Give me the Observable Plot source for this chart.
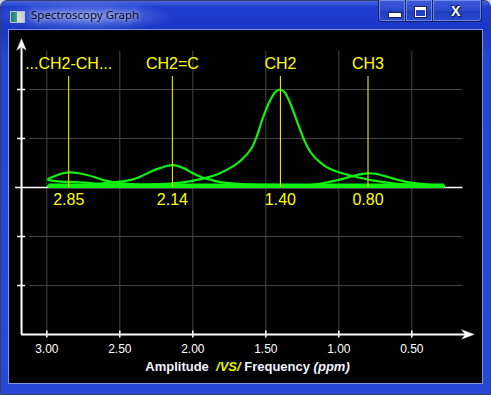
<!DOCTYPE html>
<html>
<head>
<meta charset="utf-8">
<script src="https://cdn.jsdelivr.net/npm/d3@7"></script>
<script src="https://cdn.jsdelivr.net/npm/@observablehq/plot@0.6"></script>
<style>
  body { margin:0; width:491px; height:395px; overflow:hidden; background:#c8d0e0; position:relative; }
  .abs { position:absolute; }
  #win { left:0; top:0; width:491px; height:395px; box-sizing:border-box; border:1px solid #34406a;
         border-radius:7px 7px 0 0;
         background: linear-gradient(180deg, #4a66e0 0px, #1f3dd0 6px, #1a37c6 28px, #2546d4 60px, #2747d6 100%); }
  #glow { left:0; top:0; width:190px; height:30px;
          background: radial-gradient(ellipse 90px 16px at 85px 16px, rgba(170,190,255,0.55), rgba(120,150,255,0) 100%); }
  #title { left:31px; top:7px; font: 11.5px "Noto Sans", "Open Sans", sans-serif; line-height:16px; color:#0b0b1c;
           text-shadow: 0 0 5px rgba(255,255,255,0.7), 0 0 9px rgba(255,255,255,0.5); white-space:nowrap; }
  #icon { left:10px; top:11px; width:15px; height:12px; box-sizing:border-box; border:1px solid #b8c0c8;
          background: linear-gradient(90deg, #1f7f74 0, #3aa08f 45%, #dfe3e8 45%, #c6ccd4 100%); }
  .btn { top:0; height:22px; box-sizing:border-box; border:1px solid #15245e; border-top:none;
         background: linear-gradient(180deg, #3c5ad8 0%, #2b49cc 50%, #1f3cc2 51%, #2a48cc 100%);
         box-shadow: inset 0 0 0 1px rgba(160,180,255,0.55); }
  #bmin { left:378px; width:28px; border-radius:0 0 0 4px; }
  #bmax { left:405px; width:28px; }
  #bclose { left:432px; width:50px; border-radius:0 0 4px 0; }
  #gmin { left:388px; top:12px; width:12px; height:4px; background:#fff; border:1px solid #1a2450; box-sizing:content-box; }
  #gmax { left:415px; top:7px; width:9px; height:6px; border:1px solid #fff; border-top-width:3px; outline:1px solid #1a2450; }
  #gclose { left:451px; top:3px; font: bold 14px "Liberation Sans", Arial, sans-serif; color:#fff;
            text-shadow: 0 0 1px #101a40, 1px 1px 1px #101a40, -1px -1px 1px #101a40; }
  #client { left:8px; top:29px; width:475px; height:355px; box-sizing:border-box; border:1px solid #7d93e6; background:#000; }
  #chart { left:9px; top:30px; width:473px; height:353px; }
  #xtitle { left:2px; top:359px; width:491px; text-align:center; font: bold 13px "Liberation Sans", Arial, sans-serif;
            line-height:15px; color:#f2f4ff; white-space:pre; }
  #xtitle .vs { color:#e6f000; font-style:italic; }
  #xtitle .u { font-style:italic; }
</style>
</head>
<body>
<div id="win" class="abs"></div>
<div id="glow" class="abs"></div>
<div id="icon" class="abs"></div>
<div id="title" class="abs">Spectroscopy Graph</div>
<div id="bmin" class="abs btn"></div>
<div id="bmax" class="abs btn"></div>
<div id="bclose" class="abs btn"></div>
<div id="gmin" class="abs"></div>
<div id="gmax" class="abs"></div>
<div id="gclose" class="abs">X</div>
<div id="client" class="abs"></div>
<div id="chart" class="abs"></div>
<div id="xtitle" class="abs">Amplitude  <span class="vs">/VS/</span> Frequency <span class="u">(ppm)</span></div>
<script>
// ---- data ----
const xTickValues = [3.0, 2.5, 2.0, 1.5, 1.0, 0.5];
const xTickLabels = ["3.00", "2.50", "2.00", "1.50", "1.00", "0.50"];
const yGridValues = [2, 1, -1, -2];

const peakNames = ["...CH2-CH...", "CH2=C", "CH2", "CH3"];
const peakPositions = [2.85, 2.14, 1.40, 0.80];
const peakLabels = ["2.85", "2.14", "1.40", "0.80"];

// ...CH2-CH... peak (ppm, amplitude)
const ch2chPpm = [2.99, 2.94, 2.89, 2.84, 2.78, 2.67, 2.60, 2.54, 2.43, 2.22, 1.80, 1.00, 0.28];
const ch2chAmp = [0.18, 0.24, 0.29, 0.31, 0.29, 0.21, 0.14, 0.11, 0.07, 0.05, 0.04, 0.035, 0.03];
// broad shoulder line under the ...CH2-CH... peak
const shoulderPpm = [2.99, 2.90, 2.79, 2.63, 2.50, 2.30, 2.00];
const shoulderAmp = [0.15, 0.12, 0.11, 0.075, 0.06, 0.045, 0.035];
// CH2=C peak
const ch2cPpm = [2.99, 2.77, 2.63, 2.50, 2.43, 2.36, 2.29, 2.22, 2.14, 2.06, 2.00, 1.93, 1.88, 1.81, 1.67, 1.40, 0.80, 0.28];
const ch2cAmp = [0.03, 0.05, 0.08, 0.12, 0.15, 0.22, 0.32, 0.40, 0.455, 0.39, 0.29, 0.20, 0.16, 0.11, 0.07, 0.05, 0.04, 0.03];
// CH2 main peak
const ch2Ppm = [2.99, 2.63, 2.29, 2.08, 1.93, 1.83, 1.72, 1.66, 1.60, 1.56, 1.52, 1.47, 1.43, 1.40, 1.37, 1.33, 1.28, 1.24, 1.21, 1.17, 1.13, 1.08, 1.00, 0.92, 0.76, 0.60, 0.44, 0.28];
const ch2Amp = [0.03, 0.04, 0.06, 0.10, 0.18, 0.27, 0.44, 0.58, 0.79, 1.06, 1.42, 1.78, 1.96, 2.00, 1.94, 1.70, 1.30, 0.99, 0.80, 0.63, 0.52, 0.41, 0.31, 0.245, 0.14, 0.075, 0.05, 0.03];
// CH3 peak
const ch3Ppm = [2.99, 2.00, 1.50, 1.26, 1.17, 1.04, 0.92, 0.87, 0.81, 0.75, 0.67, 0.60, 0.53, 0.39, 0.28];
const ch3Amp = [0.03, 0.035, 0.035, 0.045, 0.06, 0.13, 0.22, 0.26, 0.29, 0.28, 0.22, 0.16, 0.11, 0.06, 0.04];
// thick merged tails along the baseline
const bandPpm = [2.99, 0.28];
const bandAmp = [0.035, 0.035];

const toPoints = (xs, ys) => xs.map((x, i) => ({x, y: ys[i]}));

const green = "#10f010";
const yellow = "#ffff00";
const font = "'Liberation Sans', Arial, sans-serif";

const arrowShape = {
  draw(context, l, r) {
    context.moveTo(0, -l);
    context.lineTo(r, 0);
    context.lineTo(0, -l * 0.3);
    context.lineTo(-r, 0);
    context.closePath();
  }
};

const curveOpts = {x: "x", y: "y", stroke: green, strokeWidth: 2.2, curve: "catmull-rom"};

const chart = Plot.plot({
  width: 473,
  height: 353,
  x: {domain: [3.2, 0.1], range: [8.1, 460.7], axis: null},
  y: {domain: [-3, 3], range: [304, 10], axis: null},
  style: {background: "black", fontFamily: font},
  marks: [
    // grid
    Plot.ruleX(xTickValues, {y1: -3, y2: 2.78, stroke: "#444", strokeWidth: 1}),
    Plot.ruleY(yGridValues, {x1: 3.118, x2: 0.153, stroke: "#444", strokeWidth: 1}),
    // zero baseline
    Plot.ruleY([0], {x1: 3.214, x2: 0.15, stroke: "white", strokeWidth: 1.5}),
    // y ticks
    Plot.ruleY(yGridValues, {x1: 3.2, x2: 3.145, stroke: "white", strokeWidth: 1.5}),
    // x ticks
    Plot.ruleX(xTickValues, {y1: -2.93, y2: -3.07, stroke: "white", strokeWidth: 1.5}),
    // axes
    Plot.ruleX([3.173], {y1: -3, y2: 2.85, stroke: "white", strokeWidth: 2}),
    Plot.ruleY([-3], {x1: 3.173, x2: 0.12, stroke: "white", strokeWidth: 2}),
    Plot.vector([0], {x: 3.173, y: 3.03, length: 11, r: 4.5, rotate: 0, anchor: "end", shape: arrowShape, fill: "white", stroke: "white", strokeWidth: 0.5}),
    Plot.vector([0], {x: 0.075, y: -3, length: 12, r: 4.5, rotate: 90, anchor: "end", shape: arrowShape, fill: "white", stroke: "white", strokeWidth: 0.5}),
    // spectrum
    Plot.line(toPoints(bandPpm, bandAmp), {x: "x", y: "y", stroke: green, strokeWidth: 4.5, strokeLinecap: "butt"}),
    Plot.line(toPoints(shoulderPpm, shoulderAmp), curveOpts),
    Plot.line(toPoints(ch2chPpm, ch2chAmp), curveOpts),
    Plot.line(toPoints(ch2cPpm, ch2cAmp), curveOpts),
    Plot.line(toPoints(ch3Ppm, ch3Amp), curveOpts),
    Plot.line(toPoints(ch2Ppm, ch2Amp), curveOpts),
    // peak markers
    Plot.ruleX(peakPositions, {y1: 0, y2: 2.265, stroke: yellow, strokeWidth: 1}),
    Plot.text(peakNames, {x: (d, i) => peakPositions[i], y: 2.53, text: d => d, fill: yellow, fontSize: 16}),
    Plot.text(peakLabels, {x: (d, i) => peakPositions[i], y: -0.25, text: d => d, fill: yellow, fontSize: 16}),
    // x tick labels
    Plot.text(xTickLabels, {x: (d, i) => xTickValues[i], y: -3.29, text: d => d, fill: "white", fontSize: 12})
  ]
});
document.getElementById("chart").appendChild(chart);
</script>
</body>
</html>
